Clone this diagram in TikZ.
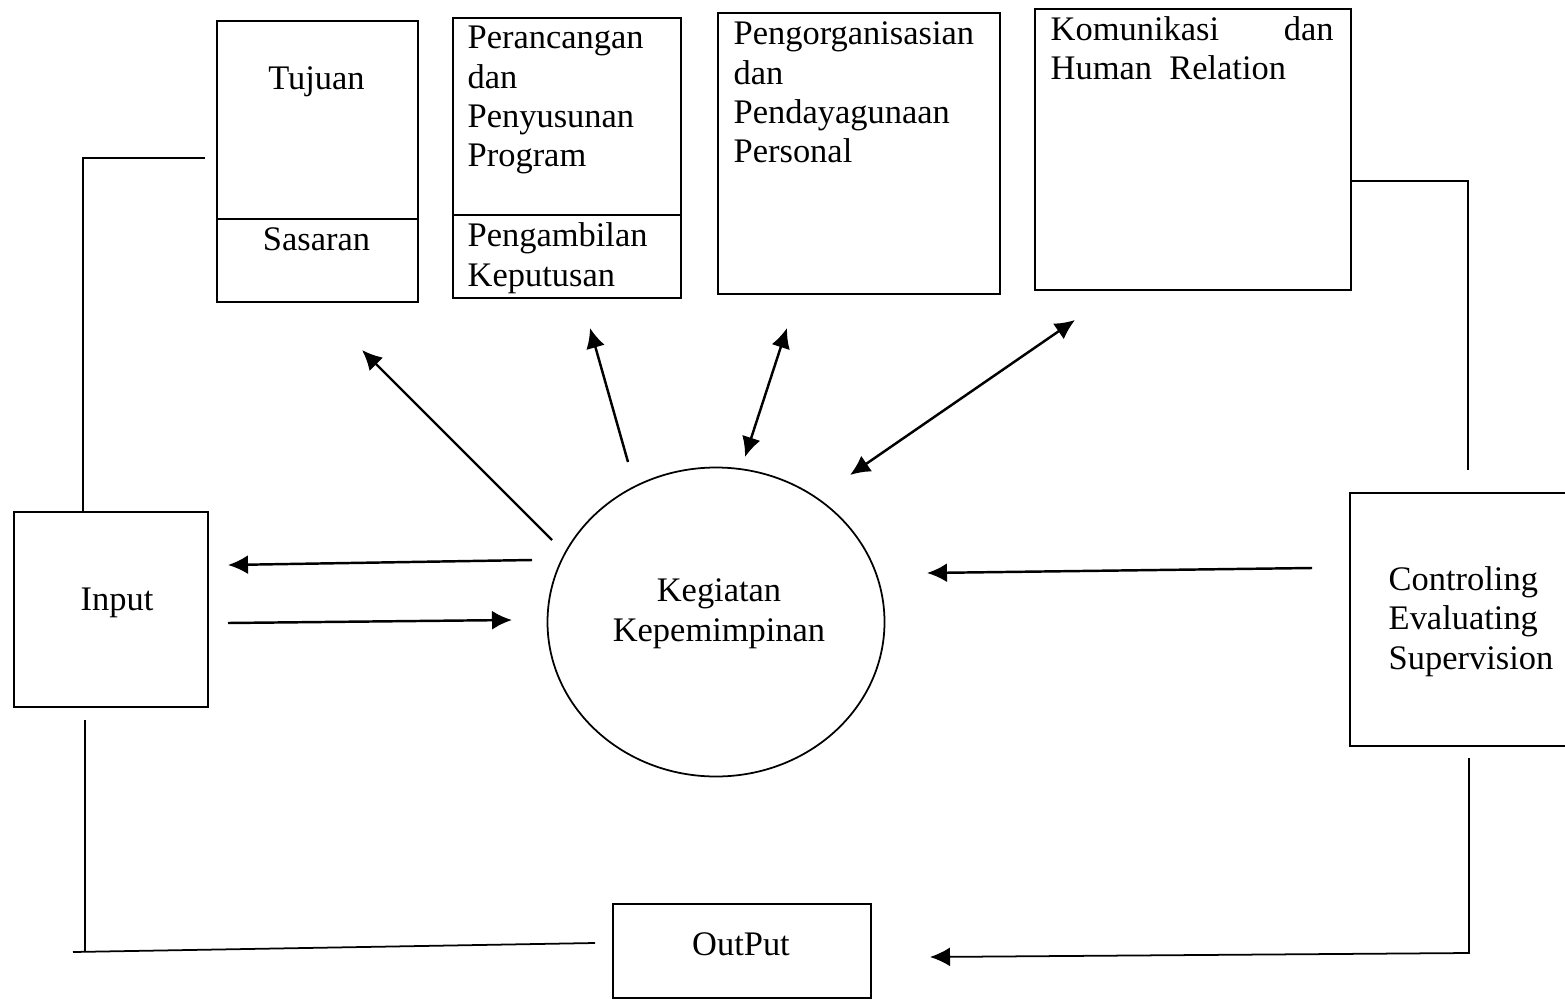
\documentclass[tikz,border=0pt]{standalone}
\usepackage{fontspec}
\setmainfont{Liberation Serif}
\usetikzlibrary{arrows.meta,positioning,shapes.geometric}

\begin{document}
\begin{tikzpicture}[x=1cm,y=1cm,
  font=\fontsize{9.8}{11.2}\selectfont,
  box/.style={draw,line width=0.5pt,anchor=north west,inner sep=0pt},
  txt/.style={inner sep=0pt,align=left,anchor=base west},
  ctxt/.style={inner sep=0pt,align=center,anchor=base},
  link/.style={line width=0.5pt},
  tip/.style={line width=0.7pt,-{Latex[length=2mm,width=1.9mm]}},
  dtip/.style={line width=0.7pt,{Latex[length=2mm,width=1.9mm]}-{Latex[length=2mm,width=1.9mm]}}]
\useasboundingbox (0,0) rectangle (15.65,-9.99);
\clip (0,0) rectangle (15.65,-9.99);

\node[box,minimum width=2.01cm,minimum height=2.81cm] (tuj) at (2.16,-0.20) {};
\node[box,minimum width=2.28cm,minimum height=2.80cm] (ran) at (4.52,-0.17) {};
\node[box,minimum width=2.82cm,minimum height=2.81cm] (org) at (7.17,-0.12) {};
\node[box,minimum width=3.16cm,minimum height=2.81cm] (kom) at (10.34,-0.08) {};
\node[box,minimum width=1.94cm,minimum height=1.95cm] (inp) at (0.13,-5.11) {};
\node[box,minimum width=2.40cm,minimum height=2.53cm] (ctl) at (13.49,-4.92) {};
\node[box,minimum width=2.58cm,minimum height=0.94cm] (out) at (6.12,-9.03) {};
\node[draw,ellipse,line width=0.5pt,inner sep=0pt,minimum width=3.37cm,minimum height=3.09cm] (keg) at (7.16,-6.22) {};

\draw[link] (tuj.west |- 0,-2.19) -- (tuj.east |- 0,-2.19);
\draw[link] (ran.west |- 0,-2.15) -- (ran.east |- 0,-2.15);

\node[ctxt] (tujT) at (3.165,-0.90) {Tujuan};
\node[ctxt] (sasT) at (3.165,-2.50) {Sasaran};
\node[txt] (ranT) at (4.67,-1.67) {Perancangan\\dan\\Penyusunan\\Program};
\node[txt] (ambT) at (4.67,-2.86) {Pengambilan\\Keputusan};
\node[txt] (orgT) at (7.33,-1.63) {Pengorganisasian\\dan\\Pendayagunaan\\Personal};
\node[txt] (komT) at (10.50,-0.80) {\makebox[2.83cm][l]{Komunikasi\hfill dan}\\Human\ \ Relation};
\node[ctxt] (inpT) at (1.17,-6.10) {Input};
\node[ctxt] (kegT) at (7.19,-6.41) {Kegiatan\\Kepemimpinan};
\node[txt] (ctlT) at (13.88,-6.69) {Controling\\Evaluating\\Supervision};
\node[ctxt] (outT) at (7.41,-9.55) {OutPut};

\coordinate (tujS) at (5.52,-5.40); \coordinate (tujE) at (3.62,-3.50);
\coordinate (ranS) at (6.28,-4.62); \coordinate (ranE) at (5.90,-3.28);
\coordinate (orgS) at (7.45,-4.57); \coordinate (orgE) at (7.87,-3.28);
\coordinate (komS) at (8.50,-4.75); \coordinate (komE) at (10.75,-3.20);
\coordinate (inpS) at (5.32,-5.60); \coordinate (inpE) at (2.28,-5.65);
\coordinate (kegS) at (2.28,-6.23); \coordinate (kegE) at (5.12,-6.20);
\coordinate (ctlS) at (13.12,-5.68); \coordinate (ctlE) at (9.27,-5.73);

\draw[tip] (tujS) -- (tujE);
\draw[tip] (ranS) -- (ranE);
\draw[dtip] (orgS) -- (orgE);
\draw[dtip] (komS) -- (komE);
\draw[tip] (inpS) -- (inpE);
\draw[tip] (kegS) -- (kegE);
\draw[tip] (ctlS) -- (ctlE);

\coordinate (inTop) at (0.83,-1.58); \coordinate (tujL) at (2.05,-1.58);
\coordinate (komR) at (14.68,-1.81); \coordinate (ctlUp) at (14.68,-4.70);
\coordinate (ctlDn) at (14.69,-7.58); \coordinate (ctlBot) at (14.69,-9.53);
\coordinate (outR) at (9.30,-9.57);
\coordinate (inBot) at (0.85,-7.20); \coordinate (inCor) at (0.85,-9.51);
\coordinate (lineL) at (0.73,-9.52); \coordinate (outL) at (5.95,-9.43);

\draw[link] (inp.north -| inTop) -- (inTop) -- (tujL);
\draw[link] (kom.east |- komR) -- (komR) -- (ctlUp);
\draw[tip,line width=0.5pt] (ctlDn) -- (ctlBot) -- (outR);
\draw[link] (inBot) -- (inCor);
\draw[link] (lineL) -- (outL);

\end{tikzpicture}
\end{document}
